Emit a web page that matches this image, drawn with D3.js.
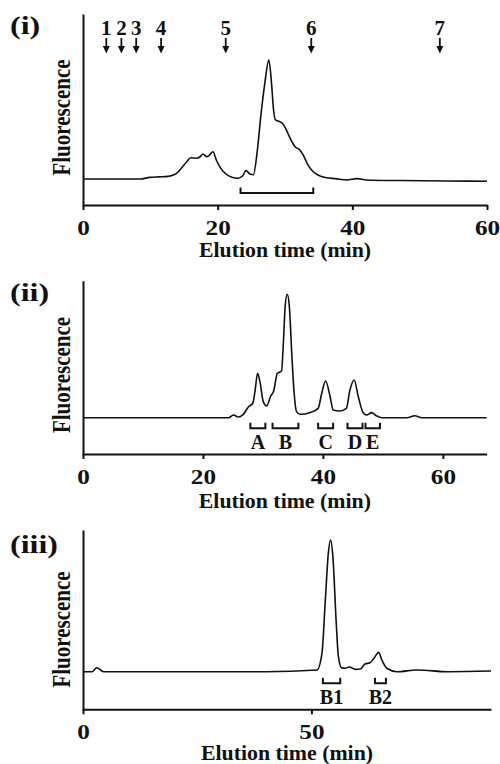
<!DOCTYPE html>
<html><head><meta charset="utf-8">
<script src="https://cdn.jsdelivr.net/npm/d3@7"></script>
<style>
body{margin:0;background:#fff}
svg text{font-family:"Liberation Serif","Times New Roman",serif;font-weight:bold;fill:#111}
</style></head><body>
<svg id="c" width="500" height="764"></svg>
<script>
// ---------- Panel (i) ----------
const time1 = [0,8.5,9.9,11.2,12.3,12.9,13.9,14.6,15.4,16.0,16.9,17.4,17.8,18.4,18.8,19.3,19.8,20.3,21.1,22.1,23.0,23.7,24.2,24.8,25.3,25.9,26.4,27.0,27.6,28.0,28.3,28.6,29.2,29.7,30.2,30.7,31.5,32.2,32.7,33.4,34.2,35.2,36.2,37.5,39.2,40.7,42.1,47,54,60];
const fluor1 = [0,0,1.4,1.8,2.0,2.5,4.8,9.0,14.5,17.9,17.4,18.7,21.0,18.7,20.2,22.9,16.0,10.4,4.8,1.4,0.6,2.5,7.0,4.2,3.6,24.4,52.4,80.4,100,80.4,58,49.6,48.2,46.2,41.2,35.0,27.1,24.4,20.2,11.8,6.1,2.5,1.1,0.3,-0.8,0.3,-0.8,-1.3,-1.7,-1.9];
const ticks1 = [0,20,40,60];
const markerTimes = [3.46,5.7,7.9,11.6,21.2,33.9,53.0];
const markerLabels = ["1","2","3","4","5","6","7"];
const brackets1 = [[23.4,34.2]];
const bracketLabels1 = [""];

// ---------- Panel (ii) ----------
const time2 = [0,24.3,25.05,25.9,26.6,27.6,28.3,28.7,29.1,29.5,30.05,30.6,31.3,31.8,32.4,33.1,33.4,33.7,34.05,34.4,34.8,35.2,35.6,36.2,37.8,39.2,39.8,40.45,41.2,41.7,42.8,43.9,44.5,45.2,45.9,46.7,47.3,48.1,48.9,49.8,54,55.3,56.5,67.3];
const fluor2 = [0,0,2.2,0.6,2.0,8.9,11.7,22.4,36.0,29.2,13.0,9.5,17.6,21.9,36.0,37.8,60.3,90,100,90,52.2,19.8,4.9,2.8,4.1,7.6,19.8,29.7,17.0,6.2,5.4,7.6,22.4,30.6,17.0,4.1,2.2,4.1,1.6,0,0,1.6,0,0];
const ticks2 = [0,20,40,60];
const brackets2 = [[27.9,30.4],[31.6,35.9],[39.2,41.7],[44.1,46.6],[47.1,49.5]];
const bracketLabels2 = ["A","B","C","D","E"];

// ---------- Panel (iii) ----------
const time3 = [0,2,3,4.5,20,40,51.2,52.3,53,53.7,54.2,54.7,55.4,55.9,56.6,57.4,58.3,59.6,60.7,61.7,62.8,63.7,64.7,65.4,66.5,68.7,73.1,80,89.3];
const fluor3 = [0,0,3,0,0,0,1.3,14,52,90,100,87,39,11.4,3,2.6,3.6,1.8,2,5.8,6.8,10.2,14.7,8.9,2.6,0,1.3,0,0.5];
const ticks3 = [0,50];
const brackets3 = [[52.5,56.3],[63.9,66.3]];
const bracketLabels3 = ["B1","B2"];

const panelLabels = ["(i)","(ii)","(iii)"];
const xTitle = "Elution time (min)";
const yTitle = "Fluorescence";

// ---------- layout ----------
const layout = [
  {label:panelLabels[0], t:time1, v:fluor1, ticks:ticks1, dom:[0,60],   x0:83, x1:487,   top:14,    axisY:205,   base:179,   peak:60,    lblY:34,  titleY:257, yTitleC:117.5, br:brackets1, brL:bracketLabels1, brY:193,   brLblY:0},
  {label:panelLabels[1], t:time2, v:fluor2, ticks:ticks2, dom:[0,67.3], x0:83, x1:486.7, top:280.7, axisY:454,   base:417.7, peak:294.3, lblY:301, titleY:508, yTitleC:375,   br:brackets2, brL:bracketLabels2, brY:428.3, brLblY:448.5},
  {label:panelLabels[2], t:time3, v:fluor3, ticks:ticks3, dom:[0,89.3], x0:83, x1:491,   top:530,   axisY:709.3, base:671.7, peak:540,   lblY:553, titleY:760, yTitleC:629.5, br:brackets3, brL:bracketLabels3, brY:683.3, brLblY:703.5}
];

const svg = d3.select("#c");
const ink = "#111";

layout.forEach((p, i) => {
  const x = d3.scaleLinear().domain(p.dom).range([p.x0, p.x1]);
  const y = d3.scaleLinear().domain([0,100]).range([p.base, p.peak]);
  const g = svg.append("g");

  // trace
  const data = p.t.map((t,k)=>({t, v:p.v[k]}));
  g.append("path").datum(data)
    .attr("fill","none").attr("stroke",ink).attr("stroke-width",1.6)
    .attr("stroke-linejoin","round")
    .attr("d", d3.line().x(d=>x(d.t)).y(d=>y(d.v)).curve(d3.curveMonotoneX));

  // x axis
  const xa = g.append("g").attr("transform",`translate(0,${p.axisY})`)
    .call(d3.axisBottom(x).tickValues(p.ticks).tickFormat(d3.format("d")).tickSize(5).tickSizeOuter(0).tickPadding(10));
  xa.select(".domain").attr("stroke",ink).attr("stroke-width",2);
  xa.selectAll(".tick line").attr("stroke",ink).attr("stroke-width",2);
  xa.selectAll(".tick text").attr("font-size",21).attr("font-family",null).attr("fill",ink)
    .attr("transform","scale(1.2,1)");

  // y axis (no ticks)
  const yAxisScale = d3.scaleLinear().domain([0,1]).range([p.axisY+1, p.top]);
  const ya = g.append("g").attr("transform",`translate(${p.x0},0)`)
    .call(d3.axisLeft(yAxisScale).tickValues([]).tickSizeOuter(0));
  ya.select(".domain").attr("stroke",ink).attr("stroke-width",2);

  // titles
  g.append("text").attr("transform",`translate(${(p.x0+p.x1)/2},${p.titleY}) scale(1.04,1)`)
    .attr("text-anchor","middle").attr("font-size",21).text(xTitle);
  g.append("text").attr("transform",`translate(70,${p.yTitleC}) rotate(-90) scale(1,1.15)`)
    .attr("text-anchor","middle").attr("font-size",21).text(yTitle);
  g.append("text").attr("transform",`translate(10,${p.lblY}) scale(1.28,1)`)
    .attr("font-size",25).text(p.label);

  // brackets
  p.br.forEach((b,k)=>{
    const xa0 = x(b[0]), xa1 = x(b[1]);
    g.append("path").attr("fill","none").attr("stroke",ink).attr("stroke-width",2)
      .attr("d",`M${xa0},${p.brY-5.5}V${p.brY}H${xa1}V${p.brY-5.5}`);
    if (p.brL[k]) {
      g.append("text").attr("x",(xa0+xa1)/2).attr("y",p.brLblY)
        .attr("text-anchor","middle").attr("font-size",20).text(p.brL[k]);
    }
  });

  // markers (panel i)
  if (i === 0) {
    markerTimes.forEach((t,k)=>{
      const mx = x(t);
      g.append("text").attr("x",mx).attr("y",35).attr("text-anchor","middle")
        .attr("font-size",21).text(markerLabels[k]);
      g.append("line").attr("x1",mx).attr("x2",mx).attr("y1",38).attr("y2",48)
        .attr("stroke",ink).attr("stroke-width",1.8);
      g.append("path").attr("fill",ink)
        .attr("d",`M${mx-3.5},${46}L${mx+3.5},${46}L${mx},${53.5}Z`);
    });
  }
});
</script>
</body></html>
